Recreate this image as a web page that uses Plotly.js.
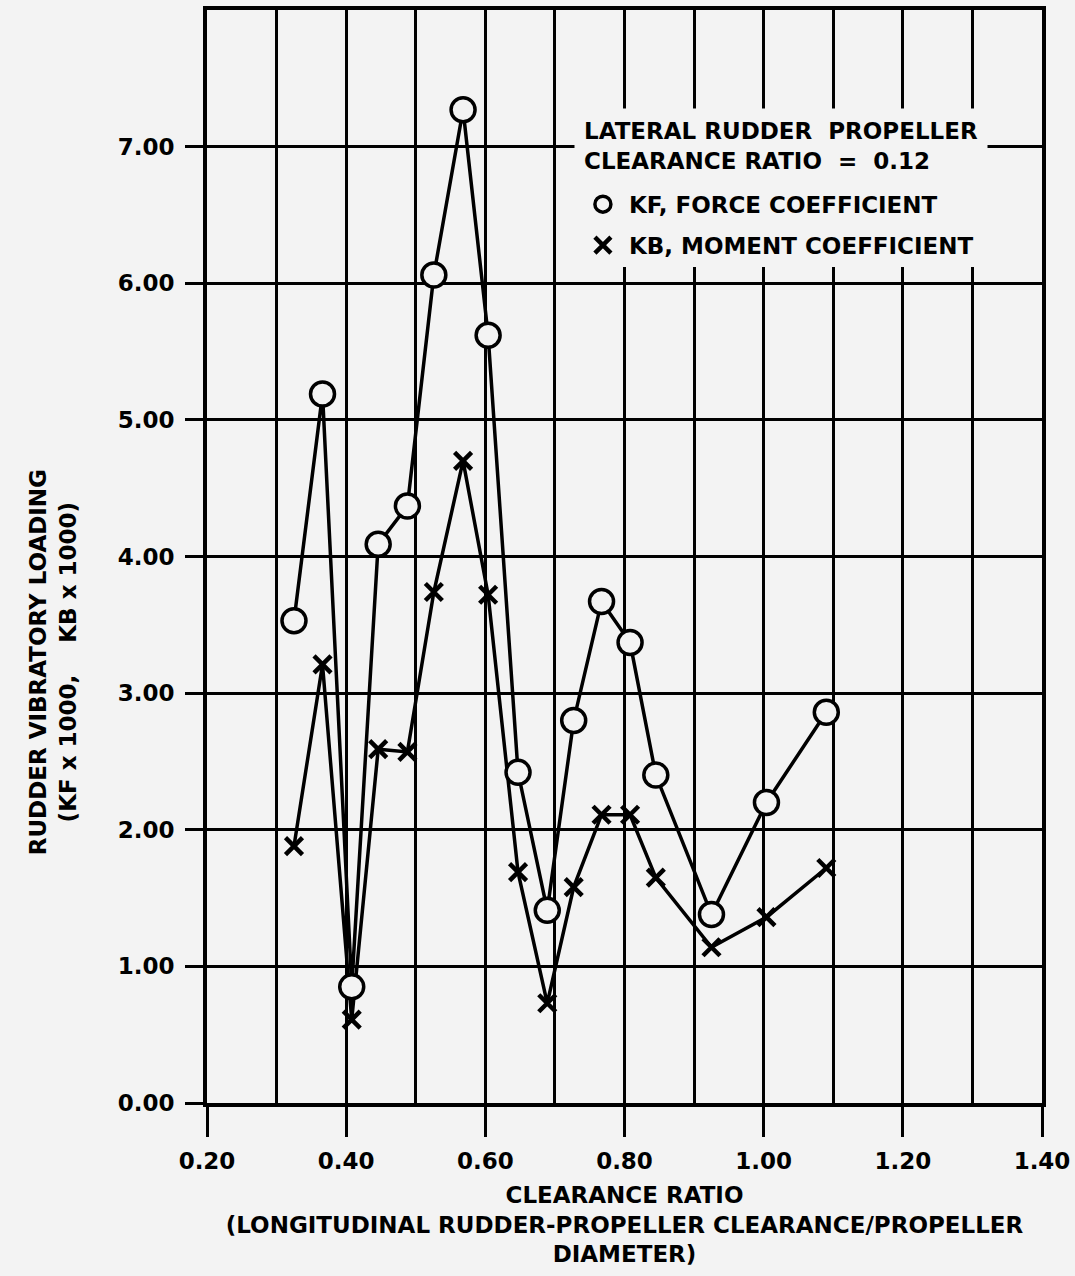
<!DOCTYPE html>
<html>
<head>
<meta charset="utf-8">
<script src="https://cdn.plot.ly/plotly-3.0.1.min.js"></script>
<style>
  html, body { margin: 0; padding: 0; background: #f3f3f3; }
  #chart { width: 1075px; height: 1276px; }
</style>
</head>
<body>
<div id="chart"></div>
<script>
// Clearance ratio (longitudinal rudder-propeller clearance / propeller diameter)
const clearanceRatio = [0.325, 0.366, 0.408, 0.446, 0.488, 0.526, 0.568, 0.604, 0.647, 0.689, 0.727, 0.767, 0.808, 0.845, 0.925, 1.004, 1.09];
// KF x 1000, force coefficient
const kfForce = [3.53, 5.19, 0.85, 4.09, 4.37, 6.06, 7.27, 5.62, 2.42, 1.41, 2.80, 3.67, 3.37, 2.40, 1.38, 2.20, 2.86];
// KB x 1000, moment coefficient
const kbMoment = [1.88, 3.21, 0.61, 2.59, 2.57, 3.74, 4.70, 3.72, 1.69, 0.73, 1.58, 2.11, 2.11, 1.65, 1.14, 1.36, 1.72];

const xTickVals = [0.2, 0.4, 0.6, 0.8, 1.0, 1.2, 1.4];
const xTickText = ['0.20', '0.40', '0.60', '0.80', '1.00', '1.20', '1.40'];
const yTickVals = [0, 1, 2, 3, 4, 5, 6, 7];
const yTickText = ['0.00', '1.00', '2.00', '3.00', '4.00', '5.00', '6.00', '7.00'];

const FONT = 'DejaVu Sans, sans-serif';
const BG = '#f3f3f3';
const TXT = { family: FONT, size: 23, color: 'black', weight: 'bold' };

const circleMarker = { symbol: 'circle', size: 24, color: BG, line: { color: 'black', width: 3.5 } };
const crossMarker = { symbol: 'x-thin', size: 17, color: 'black', line: { color: 'black', width: 4.5 } };

const traces = [
  {
    x: clearanceRatio, y: kbMoment, type: 'scatter', mode: 'lines+markers',
    line: { color: 'black', width: 3.5 }, marker: crossMarker,
    showlegend: false, name: 'KB, MOMENT COEFFICIENT'
  },
  {
    x: clearanceRatio, y: kfForce, type: 'scatter', mode: 'lines+markers',
    line: { color: 'black', width: 3.5 }, marker: circleMarker,
    showlegend: false, name: 'KF, FORCE COEFFICIENT'
  },
  // legend-only entries (marker symbol only, as in the original key)
  {
    x: [null], y: [null], type: 'scatter', mode: 'markers',
    marker: { symbol: 'circle', size: 22, color: BG, line: { color: 'black', width: 3.5 } },
    name: 'KF, FORCE COEFFICIENT', legendgroup: 'kf', showlegend: true
  },
  {
    x: [null], y: [null], type: 'scatter', mode: 'markers',
    marker: { symbol: 'x-thin', size: 16, color: 'black', line: { color: 'black', width: 4.5 } },
    name: 'KB, MOMENT COEFFICIENT', legendgroup: 'kb', showlegend: true
  }
];

const layout = {
  width: 1075, height: 1276,
  margin: { l: 207, r: 33, t: 10, b: 173 },
  paper_bgcolor: BG, plot_bgcolor: BG,
  font: TXT,
  xaxis: {
    range: [0.2, 1.4],
    tickvals: xTickVals, ticktext: xTickText,
    ticks: 'outside', ticklen: 30, tickwidth: 3, tickcolor: 'black',
    ticklabelstandoff: 4,
    showgrid: true, gridcolor: 'black', gridwidth: 3,
    minor: { dtick: 0.1, showgrid: true, gridcolor: 'black', gridwidth: 3, ticks: '' },
    showline: true, linecolor: 'black', linewidth: 4, mirror: true,
    zeroline: false,
    tickfont: TXT,
    title: {
      text: 'CLEARANCE RATIO<br>(LONGITUDINAL RUDDER-PROPELLER CLEARANCE/PROPELLER<br>DIAMETER)',
      font: TXT,
      standoff: 15
    }
  },
  yaxis: {
    range: [0, 8],
    tickvals: yTickVals, ticktext: yTickText,
    ticks: 'outside', ticklen: 18, tickwidth: 3, tickcolor: 'black',
    ticklabelstandoff: 6,
    showgrid: true, gridcolor: 'black', gridwidth: 3,
    showline: true, linecolor: 'black', linewidth: 4, mirror: true,
    zeroline: false,
    tickfont: TXT
  },
  legend: {
    x: 0.443, y: 0.842, xanchor: 'left', yanchor: 'top',
    bgcolor: BG, borderwidth: 0,
    traceorder: 'grouped', tracegroupgap: 8,
    itemwidth: 42,
    font: TXT
  },
  annotations: [
    {
      text: 'LATERAL RUDDER  PROPELLER<br>CLEARANCE RATIO  =  0.12',
      xref: 'paper', yref: 'paper',
      x: 0.439, y: 0.910, xanchor: 'left', yanchor: 'top',
      align: 'left', showarrow: false,
      bgcolor: BG, borderpad: 9,
      font: TXT
    },
    {
      text: 'RUDDER VIBRATORY LOADING<br>(KF x 1000,    KB x 1000)',
      xref: 'paper', yref: 'paper',
      x: -0.184, y: 0.4035, xanchor: 'center', yanchor: 'middle',
      textangle: -90, showarrow: false,
      font: TXT
    }
  ]
};

Plotly.newPlot('chart', traces, layout, { displayModeBar: false, staticPlot: true });
</script>
</body>
</html>
